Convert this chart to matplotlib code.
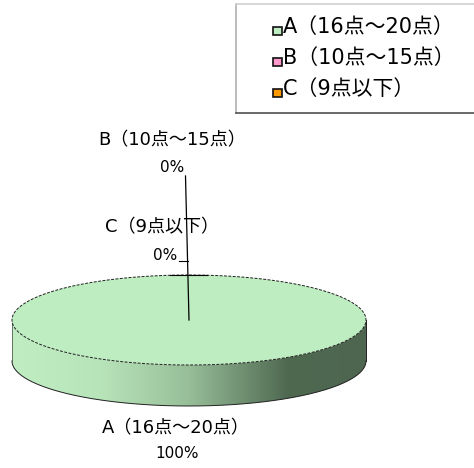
import numpy as np
import matplotlib
matplotlib.use("Agg")
import matplotlib.pyplot as plt
from matplotlib.patches import Polygon, Rectangle
from matplotlib.colors import LinearSegmentedColormap

plt.rcParams['font.family'] = ['DejaVu Sans', 'Noto Sans CJK JP']

# data
categories = ["A（16点～20点）", "B（10点～15点）", "C（9点以下）"]
values = [100, 0, 0]
colors = ["#BDEDC0", "#FF99CC", "#FF9900"]

W, H = 474, 468
fig = plt.figure(figsize=(W / 100, H / 100), dpi=100)
ax = fig.add_axes([0, 0, 1, 1])
ax.set_xlim(0, W)
ax.set_ylim(H, 0)
ax.axis("off")

# 3D pie geometry (pixel space)
cx, cy = 189, 320
a, b = 177, 45
depth = 41
FS_LABEL = 13
FS_PCT = 11
FS_LEGEND = 15

total = sum(values)
fracs = [v / total for v in values]
start = np.pi / 2  # first slice starts at 12 o'clock, clockwise


def ell(t):
    return cx + a * np.cos(t), cy - b * np.sin(t)


# side wall (front half, visible from 180° to 360°)
t_side = np.linspace(np.pi, 2 * np.pi, 200)
xs, ys = ell(t_side)
side_pts = np.concatenate([np.column_stack([xs, ys]),
                           np.column_stack([xs[::-1], ys[::-1] + depth])])
side_cmap = LinearSegmentedColormap.from_list(
    "side", [(0.0, "#C0EEC2"), (0.25, "#B8E4BA"), (0.5, "#97BE98"),
             (0.78, "#4F6951"), (1.0, "#4E6650")])
grad = np.linspace(0, 1, 256).reshape(1, -1)
im = ax.imshow(grad, cmap=side_cmap, extent=[cx - a, cx + a, cy + b + depth, cy - b],
               aspect="auto", zorder=1, interpolation="bilinear")
side_poly = Polygon(side_pts, closed=True, facecolor="none", edgecolor="none")
ax.add_patch(side_poly)
im.set_clip_path(side_poly)
# side outline
ax.plot(xs, ys + depth, color="#202020", lw=0.7, zorder=2)
ax.plot([cx - a, cx - a], [cy, cy + depth], color="#404040", lw=0.5, zorder=2)
ax.plot([cx + a, cx + a], [cy, cy + depth], color="#202020", lw=0.7, zorder=2)

# top faces from slice fractions
ang = start
for f, c in zip(fracs, colors):
    if f <= 0:
        continue
    t = np.linspace(ang, ang - 2 * np.pi * f, 400)
    px, py = ell(t)
    if f < 1:
        px = np.concatenate([[cx], px])
        py = np.concatenate([[cy], py])
    ax.add_patch(Polygon(np.column_stack([px, py]), closed=True,
                         facecolor=c, edgecolor="#202020", lw=0.7,
                         linestyle=(0, (3, 1.5)), zorder=3))
    ang -= 2 * np.pi * f

# leader lines and data labels
ax.plot([189, 185.5], [320, 176], color="black", lw=0.9, zorder=4)
ax.plot([179, 188], [261, 261], color="black", lw=0.8, zorder=4)
ax.plot([170, 207], [274.5, 274.5], color="black", lw=0.8, zorder=4)

label_pos = [((176, 428), (177, 454)),
             ((172, 140), (172, 167)),
             ((162, 227), (165, 256))]
for cat, v, (p1, p2) in zip(categories, values, label_pos):
    ax.text(*p1, cat, fontsize=FS_LABEL, ha="center", va="center", zorder=5)
    ax.text(*p2, f"{v}%", fontsize=FS_PCT, ha="center", va="center", zorder=5)

# legend box
ax.plot([236, 236], [4, 113], color="#B0B0B0", lw=1.2, zorder=5)
ax.plot([236, W], [4, 4], color="#D0D0D0", lw=1.2, zorder=5)
ax.plot([236, W], [113, 113], color="#505050", lw=1.2, zorder=5)
rows = [31, 62, 93]
for cat, c, y in zip(categories, colors, rows):
    ax.add_patch(Rectangle((273.5, y - 4.5), 8.5, 8.5, facecolor=c,
                           edgecolor="#111111", lw=1.2, zorder=6))
    ax.text(283, y - 4, cat, fontsize=FS_LEGEND, ha="left", va="center", zorder=6)

fig.savefig("out.png", dpi=100)
